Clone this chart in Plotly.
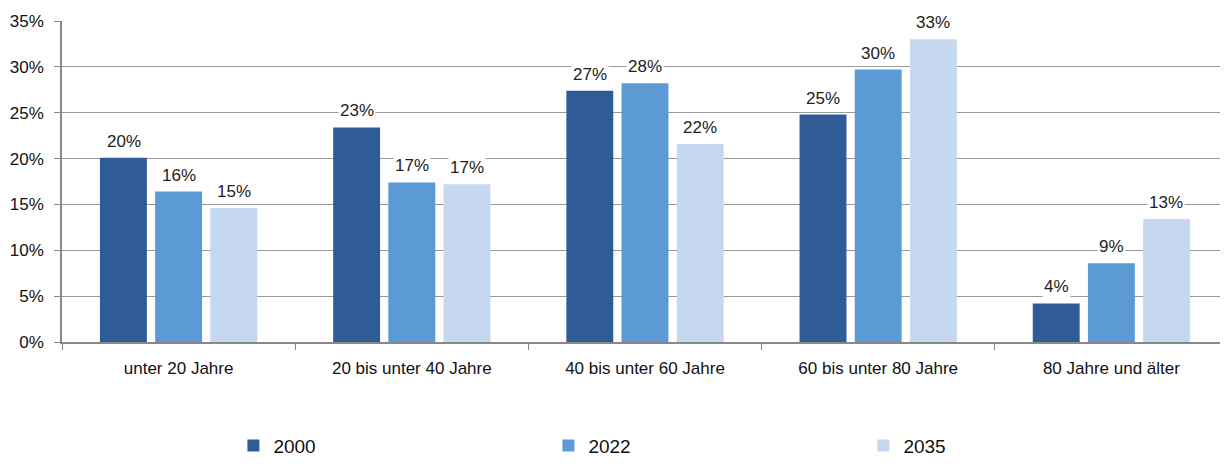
import plotly.graph_objects as go

categories = ["unter 20 Jahre", "20 bis unter 40 Jahre", "40 bis unter 60 Jahre",
              "60 bis unter 80 Jahre", "80 Jahre und älter"]
years = ["2000", "2022", "2035"]
values_2000 = [20.1, 23.4, 27.4, 24.8, 4.2]
values_2022 = [16.4, 17.4, 28.2, 29.7, 8.6]
values_2035 = [14.6, 17.2, 21.6, 33.0, 13.4]
colors = ["#2f5c97", "#5b9ad4", "#c5d8f0"]

series = [values_2000, values_2022, values_2035]

fig = go.Figure()
for year, vals, color in zip(years, series, colors):
    fig.add_trace(go.Bar(x=categories, y=vals, name=year, marker_color=color,
                         marker_line_width=0))

# value labels with white background so they cut the gridlines like the original
slot = 55
for i, vals in enumerate(series):
    for cat, v in zip(categories, vals):
        fig.add_annotation(x=cat, y=v, text=f"{v:.0f}%", showarrow=False,
                           xshift=(i - 1) * slot, yshift=5, yanchor="bottom",
                           bgcolor="white", borderpad=1,
                           font=dict(size=17, color="#222222"))

# page body has an 8px margin, so the figure is 8px smaller than the window
fig.update_layout(
    width=1220, height=458,
    margin=dict(l=54, r=0, t=13, b=124),
    plot_bgcolor="white", paper_bgcolor="white",
    font=dict(family="Liberation Sans, Arial, sans-serif", color="#111111"),
    barmode="group", bargap=0.29, bargroupgap=0.15,
    showlegend=True,
    legend=dict(orientation="h", x=0.147, xanchor="left", y=-0.382, yanchor="bottom",
                entrywidth=270, entrywidthmode="pixels", itemwidth=30,
                font=dict(size=19, color="#111111")),
)
fig.update_xaxes(showline=True, linecolor="#888888", linewidth=1.5, automargin=False,
                 ticks="outside", tickson="boundaries", ticklen=6, tickcolor="#888888",
                 ticklabelstandoff=10,
                 tickfont=dict(size=17, color="#111111"))
fig.update_yaxes(range=[0, 35], dtick=5, ticksuffix="%", showgrid=True, automargin=False,
                 gridcolor="#999999", gridwidth=1,
                 showline=True, linecolor="#888888", linewidth=1.5,
                 ticks="outside", ticklen=6, tickcolor="#888888",
                 ticklabelstandoff=7,
                 tickfont=dict(size=17, color="#111111"), zeroline=False)

fig.write_html("out.html")
